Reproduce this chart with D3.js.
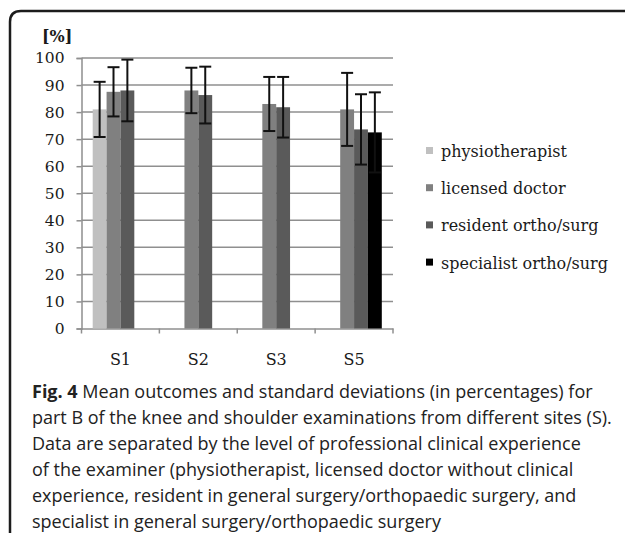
<!DOCTYPE html>
<html>
<head>
<meta charset="utf-8">
<script src="https://cdn.jsdelivr.net/npm/d3@7"></script>
<style>
  html, body { margin: 0; padding: 0; background: #fff; }
  svg { display: block; }
</style>
</head>
<body>
<div id="chart"></div>
<script>
// data
const sites = ['S1', 'S2', 'S3', 'S5']
const groups = ['physiotherapist', 'licensed doctor', 'resident ortho/surg', 'specialist ortho/surg']
const physioMean = [81, null, null, null]
const physioSd = [10.2, null, null, null]
const licensedMean = [87.5, 88, 83, 81]
const licensedSd = [9.1, 8.4, 10, 13.5]
const residentMean = [88, 86.3, 81.8, 73.6]
const residentSd = [11.4, 10.5, 11.2, 13]
const specialistMean = [null, null, null, 72.5]
const specialistSd = [null, null, null, 14.8]
const yTicks = [0, 10, 20, 30, 40, 50, 60, 70, 80, 90, 100]
const colors = ['#c0c0c0', '#808080', '#5a5a5a', '#000000']
const captionLines = [
  'Mean outcomes and standard deviations (in percentages) for',
  'part B of the knee and shoulder examinations from different sites (S).',
  'Data are separated by the level of professional clinical experience',
  'of the examiner (physiotherapist, licensed doctor without clinical',
  'experience, resident in general surgery/orthopaedic surgery, and',
  'specialist in general surgery/orthopaedic surgery'
]

const means = [physioMean, licensedMean, residentMean, specialistMean]
const sds = [physioSd, licensedSd, residentSd, specialistSd]

const width = 625
const height = 533
const serif = '"DejaVu Serif", "Liberation Serif", serif'
const sans = '"Open Sans", "Noto Sans", sans-serif'

const svg = d3.select('#chart').append('svg')
  .attr('width', width)
  .attr('height', height)

// outer frame (top + left, rounded corner)
svg.append('path')
  .attr('d', 'M10,540 L10,22 Q10,11 21,11 L630,11')
  .attr('fill', 'none')
  .attr('stroke', '#1c1c1c')
  .attr('stroke-width', 2.5)

const x = d3.scaleBand().domain(sites).range([81.5, 393]).padding(0)
const xi = d3.scaleBand().domain(d3.range(groups.length))
  .range([11.2, x.bandwidth() - 11.2]).padding(0)
const y = d3.scaleLinear().domain([0, 100]).range([328.5, 58])

// grid lines
svg.append('g')
  .selectAll('line')
  .data(yTicks.filter(d => d > 0))
  .join('line')
  .attr('x1', x.range()[0])
  .attr('x2', x.range()[1])
  .attr('y1', d => y(d))
  .attr('y2', d => y(d))
  .attr('stroke', '#8f8f8f')
  .attr('stroke-width', 1.5)

// y axis
const yAxis = svg.append('g')
  .attr('transform', `translate(${x.range()[0]},0)`)
  .call(d3.axisLeft(y).tickValues(yTicks).tickSize(5).tickPadding(12))
yAxis.select('.domain').attr('stroke', '#8f8f8f').attr('stroke-width', 1.5)
yAxis.selectAll('.tick line').attr('stroke', '#8f8f8f').attr('stroke-width', 1.5)
yAxis.selectAll('.tick text')
  .attr('font-family', serif)
  .attr('font-size', 15.5)
  .attr('fill', '#1a1a1a')

// x axis
const xAxis = svg.append('g')
  .attr('transform', `translate(0,${y(0)})`)
  .call(d3.axisBottom(x).tickSize(0).tickPadding(25))
xAxis.select('.domain').attr('stroke', '#8f8f8f').attr('stroke-width', 1.5)
xAxis.selectAll('.tick text')
  .attr('font-family', serif)
  .attr('font-size', 16)
  .attr('fill', '#1a1a1a')
// category boundary ticks
svg.append('g')
  .selectAll('line')
  .data(sites.map(s => x(s)).concat([x.range()[1]]))
  .join('line')
  .attr('x1', d => d).attr('x2', d => d)
  .attr('y1', y(0)).attr('y2', y(0) + 5)
  .attr('stroke', '#8f8f8f')
  .attr('stroke-width', 1.5)

// y unit label
svg.append('text')
  .attr('x', 42)
  .attr('y', 42)
  .attr('font-family', serif)
  .attr('font-weight', 'bold')
  .attr('font-size', 16)
  .attr('fill', '#1a1a1a')
  .text('[%]')

// bars
const barData = []
groups.forEach((g, gi) => {
  sites.forEach((s, si) => {
    if (means[gi][si] != null) {
      barData.push({ site: s, gi, mean: means[gi][si], sd: sds[gi][si] })
    }
  })
})

svg.append('g')
  .selectAll('rect')
  .data(barData)
  .join('rect')
  .attr('x', d => x(d.site) + xi(d.gi))
  .attr('y', d => y(d.mean))
  .attr('width', xi.bandwidth())
  .attr('height', d => y(0) - y(d.mean))
  .attr('fill', d => colors[d.gi])

// error bars
const err = svg.append('g')
  .attr('stroke', '#111')
  .attr('stroke-width', 2)
  .selectAll('g')
  .data(barData)
  .join('g')
  .attr('transform', d => `translate(${x(d.site) + xi(d.gi) + xi.bandwidth() / 2},0)`)
err.append('line')
  .attr('y1', d => y(d.mean + d.sd))
  .attr('y2', d => y(d.mean - d.sd))
err.append('line')
  .attr('x1', -6).attr('x2', 6)
  .attr('y1', d => y(d.mean + d.sd))
  .attr('y2', d => y(d.mean + d.sd))
err.append('line')
  .attr('x1', -6).attr('x2', 6)
  .attr('y1', d => y(d.mean - d.sd))
  .attr('y2', d => y(d.mean - d.sd))

// legend
const legend = svg.append('g')
  .selectAll('g')
  .data(groups)
  .join('g')
  .attr('transform', (d, i) => `translate(426,${157 + i * 37.2})`)
legend.append('rect')
  .attr('x', 0)
  .attr('y', -10)
  .attr('width', 7)
  .attr('height', 7)
  .attr('fill', (d, i) => colors[i])
legend.append('text')
  .attr('x', 15)
  .attr('y', 0)
  .attr('font-family', serif)
  .attr('font-size', 16)
  .attr('fill', '#1a1a1a')
  .text(d => d)

// caption
const cap = svg.append('g')
  .attr('font-family', sans)
  .attr('font-size', 18)
  .attr('fill', '#222')
captionLines.forEach((line, i) => {
  const t = cap.append('text')
    .attr('x', 32)
    .attr('y', 398 + i * 26)
  if (i === 0) {
    t.append('tspan').attr('font-weight', 'bold').text('Fig. 4')
    t.append('tspan').text(' ' + line)
  } else {
    t.text(line)
  }
})
</script>
</body>
</html>
